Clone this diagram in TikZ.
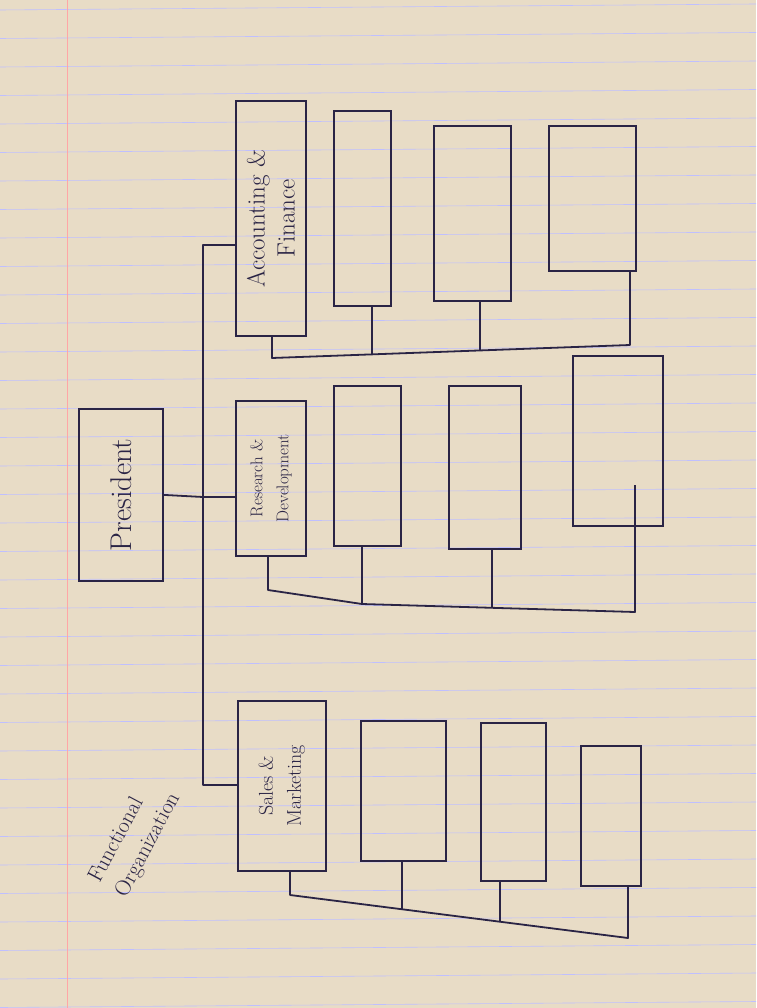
\documentclass[tikz,border=0pt]{standalone}
\begin{document}
\begin{tikzpicture}[x=1pt,y=-1pt,
  ink/.style={draw=inkc,line width=1.8pt},
  bx/.style={ink,rectangle,inner sep=0pt,anchor=north west},
  lab/.style={rotate=90,text=inkc,align=center},
  ln/.style={ink,line join=round}]
\definecolor{inkc}{HTML}{2A2445}
\definecolor{paper}{HTML}{E8DCC6}
\fill[paper] (0,0) rectangle (756,1008);
\useasboundingbox (0,0) rectangle (756,1008);
\foreach \i in {0,...,35} \draw[blue!25,line width=0.6pt] (0,{10+\i*28.5}) -- (756,{4+\i*28.5});
\draw[red!35,line width=0.7pt] (67,0) -- (67,1008);
% top level
\node[bx,minimum width=84pt,minimum height=172pt] (pres) at (78,408) {};
\node[lab,font=\fontsize{30}{34}\selectfont] (presl) at (pres.center) {President};
\node[bx,minimum width=70pt,minimum height=235pt] (af) at (235,100) {};
\node[lab,font=\fontsize{25}{30}\selectfont] (afl) at (af.center) {Accounting \&\\ Finance};
\node[bx,minimum width=70pt,minimum height=155pt] (rd) at (235,400) {};
\node[lab,font=\fontsize{17}{26}\selectfont] (rdl) at (rd.center) {Research \&\\ Development};
\node[bx,minimum width=88pt,minimum height=170pt] (sm) at (237,700) {};
\node[lab,font=\fontsize{20}{28}\selectfont] (sml) at (sm.center) {Sales \&\\ Marketing};
\coordinate (j) at (203,497);
\draw[ln] (pres.east) -- (j);
\draw[ln] (af.west |- 0,245) -| (203,785) -- (sm.west |- 0,785);
\draw[ln] (j) -- (rd.west |- j);
% A&F subs
\node[bx,minimum width=57pt,minimum height=195pt] (a1) at (333,110) {};
\node[bx,minimum width=77pt,minimum height=175pt] (a2) at (433,125) {};
\node[bx,minimum width=87pt,minimum height=145pt] (a3) at (548,125) {};
\draw[ln] (272,335) -- (272,358) -- (630,345) -- (630,270);
\draw[ln] (372,305) -- (372,355);
\draw[ln] (480,300) -- (480,351);
% R&D subs
\node[bx,minimum width=67pt,minimum height=160pt] (r1) at (333,385) {};
\node[bx,minimum width=72pt,minimum height=163pt] (r2) at (448,385) {};
\node[bx,minimum width=90pt,minimum height=170pt] (r3) at (572,355) {};
\draw[ln] (268,555) -- (268,590) -- (362,604) -- (635,612) -- (635,485);
\draw[ln] (362,545) -- (362,604);
\draw[ln] (492,548) -- (492,607);
% S&M subs
\node[bx,minimum width=85pt,minimum height=140pt] (s1) at (360,720) {};
\node[bx,minimum width=65pt,minimum height=158pt] (s2) at (480,722) {};
\node[bx,minimum width=60pt,minimum height=140pt] (s3) at (580,745) {};
\draw[ln] (290,870) -- (290,895) -- (628,938) -- (628,885);
\draw[ln] (402,860) -- (402,909);
\draw[ln] (500,880) -- (500,922);
% title
\node[text=inkc,rotate=62,font=\fontsize{22}{30}\selectfont,align=left] (title) at (135,838) {Functional\\Organization};
\end{tikzpicture}
\end{document}
